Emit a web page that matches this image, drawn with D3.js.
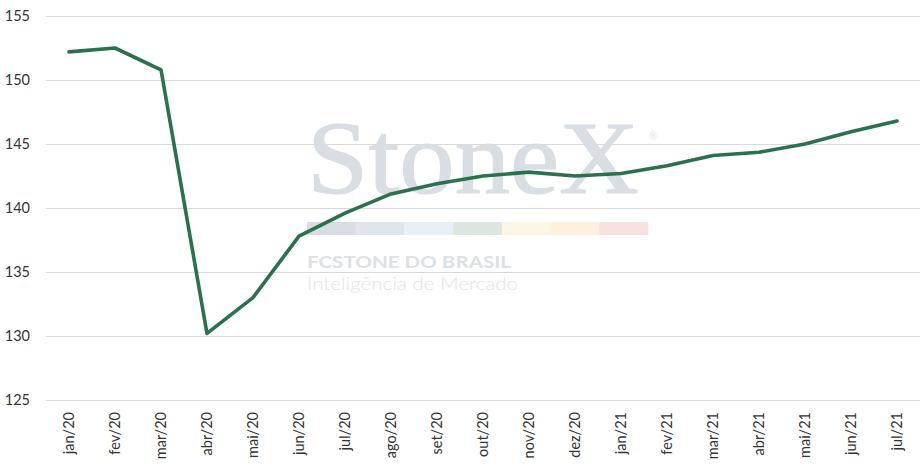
<!DOCTYPE html>
<html>
<head>
<meta charset="utf-8">
<script src="https://cdn.jsdelivr.net/npm/d3@7"></script>
<style>
  html, body { margin: 0; padding: 0; background: #fff; }
  svg { display: block; }
</style>
</head>
<body>
<svg id="chart" width="920" height="472"></svg>
<script>
const categories = ["jan/20","fev/20","mar/20","abr/20","mai/20","jun/20","jul/20","ago/20","set/20","out/20","nov/20","dez/20","jan/21","fev/21","mar/21","abr/21","mai/21","jun/21","jul/21"];
const values = [152.2, 152.5, 150.8, 130.2, 133.0, 137.8, 139.6, 141.1, 141.9, 142.5, 142.8, 142.5, 142.7, 143.3, 144.1, 144.35, 145.0, 145.95, 146.8];
const yTicks = [125, 130, 135, 140, 145, 150, 155];
const barColors = ["#d8dde3", "#dfe5ec", "#e8f0f7", "#dce6e0", "#faf6e3", "#fdf0dc", "#f6e0e0"];

const svg = d3.select("#chart");
const W = 920, H = 472;
const m = { left: 46, right: 0, top: 16, bottom: 72 };

const x = d3.scaleBand().domain(categories).range([m.left, W - m.right]);
const y = d3.scaleLinear().domain([125, 155]).range([H - m.bottom, m.top]);

// gridlines
const yAxis = d3.axisLeft(y).tickValues(yTicks).tickSize(-(W - m.left - m.right)).tickPadding(16).tickFormat(d3.format("d"));
const gy = svg.append("g").attr("transform", `translate(${m.left},0)`).call(yAxis);
gy.select(".domain").remove();
gy.selectAll(".tick line").attr("stroke", "#d9d9d9").attr("stroke-width", 1);
gy.selectAll(".tick text").attr("fill", "#333").attr("font-family", "Lato, sans-serif").attr("font-size", 14.5);

// watermark
const wm = svg.append("g").attr("class", "watermark");
wm.append("text").attr("x", 307).attr("y", 193)
  .attr("font-family", "'Liberation Serif', serif")
  .attr("font-size", 104).attr("fill", "#d9dee4")
  .attr("stroke", "#d9dee4").attr("stroke-width", 1.2)
  .attr("textLength", 332).attr("lengthAdjust", "spacingAndGlyphs")
  .text("StoneX");
wm.append("text").attr("x", 649).attr("y", 140)
  .attr("font-family", "Lato, sans-serif").attr("font-size", 11).attr("fill", "#e0e3e7").text("®");
const segW = (648 - 307) / barColors.length;
wm.selectAll("rect").data(barColors).join("rect")
  .attr("x", (d, i) => 307 + i * segW).attr("y", 222)
  .attr("width", segW + 0.3).attr("height", 13).attr("fill", d => d);
wm.append("text").attr("x", 307).attr("y", 268)
  .attr("font-family", "Lato, sans-serif").attr("font-weight", 700)
  .attr("font-size", 17.5).attr("fill", "#dde1e6")
  .attr("textLength", 204).attr("lengthAdjust", "spacingAndGlyphs")
  .text("FCSTONE DO BRASIL");
wm.append("text").attr("x", 307).attr("y", 290)
  .attr("font-family", "Lato, sans-serif").attr("font-weight", 300)
  .attr("font-size", 17.5).attr("fill", "#e2e5e9")
  .attr("textLength", 211).attr("lengthAdjust", "spacingAndGlyphs")
  .text("Inteligência de Mercado");

// x axis labels
const xAxis = d3.axisBottom(x).tickSize(0).tickPadding(0);
const gx = svg.append("g").attr("transform", `translate(0,${H - m.bottom})`).call(xAxis);
gx.select(".domain").remove();
gx.selectAll(".tick text")
  .attr("fill", "#333").attr("font-family", "Lato, sans-serif").attr("font-size", 14.5)
  .attr("text-anchor", "end").attr("dy", "0.35em")
  .attr("transform", "translate(0,12) rotate(-90)");

// line
const line = d3.line().x((d, i) => x(categories[i]) + x.bandwidth() / 2).y(d => y(d));
svg.append("path").datum(values)
  .attr("fill", "none").attr("stroke", "#2a7150").attr("stroke-width", 3.6)
  .attr("stroke-linejoin", "round").attr("stroke-linecap", "round")
  .attr("d", line);
</script>
</body>
</html>
